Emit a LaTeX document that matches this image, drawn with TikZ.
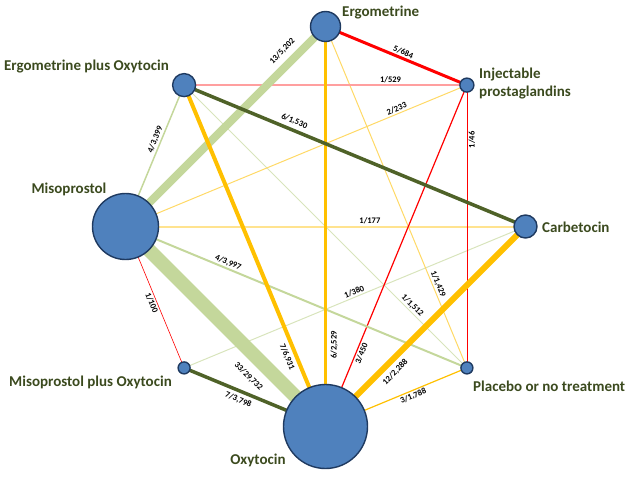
\documentclass[tikz,border=0pt]{standalone}
\usepackage{fontspec}
\setmainfont{Carlito}
\usetikzlibrary{backgrounds}
\definecolor{nfill}{HTML}{4F81BD}
\definecolor{nborder}{HTML}{1F3A60}
\definecolor{cred}{HTML}{FF0000}
\definecolor{cgold}{HTML}{FFC000}
\definecolor{clgreen}{HTML}{C4D79B}
\definecolor{colive}{HTML}{4F6228}
\definecolor{cpink}{HTML}{FF9F9F}
\definecolor{cyellow}{HTML}{FFD966}
\definecolor{cpyellow}{HTML}{FFE38F}
\definecolor{cpgreen}{HTML}{D8E4BC}
\definecolor{ctext}{HTML}{3B4A1E}
\tikzset{
  drug/.style={circle, fill=nfill, draw=nborder, line width=1.4pt, inner sep=0pt, minimum size=#1},
  dlabel/.style={text=ctext, font=\fontsize{15}{18}\selectfont\bfseries, inner sep=0pt},
  elab/.style={font=\fontsize{8.5}{10}\selectfont\bfseries, text=black, inner sep=1.5pt, sloped},
  link/.style={line cap=butt}
}
\begin{document}
\begin{tikzpicture}[x=1pt, y=-1pt]
\useasboundingbox (0,0) rectangle (640,480);
% drugs (octagon, centre (325.5,226.5), radius 200)
\node[drug=30pt] (E)  at (325.5,26.5) {};
\node[drug=14pt] (I)  at (466.9,85.1) {};
\node[drug=23pt] (C)  at (525.5,226.5) {};
\node[drug=12pt] (P)  at (466.9,367.9) {};
\node[drug=84pt] (O)  at (325.5,426.5) {};
\node[drug=12pt] (MO) at (184.1,367.9) {};
\node[drug=66pt] (M)  at (125.5,226.5) {};
\node[drug=23pt] (EO) at (184.1,85.1) {};
% labels of drugs
\node[dlabel, anchor=west] (tE) at (342,13) {Ergometrine};
\node[dlabel] (tEO) at (86.5,67) {Ergometrine plus Oxytocin};
\node[dlabel, anchor=west, align=left] (tI) at (479,84) {Injectable\\prostaglandins};
\node[dlabel] (tM) at (69,189) {Misoprostol};
\node[dlabel, anchor=west] (tC) at (542,227) {Carbetocin};
\node[dlabel] (tMO) at (90.5,382) {Misoprostol plus Oxytocin};
\node[dlabel, anchor=west] (tP) at (473,386) {Placebo or no treatment};
\node[dlabel] (tO) at (258,460) {Oxytocin};
% connectors
\begin{scope}[on background layer]
\draw[link, cpgreen, line width=1pt] (EO.center) -- node[elab, pos=0.7935, above] {1/1,512} (P.center);
\draw[link, cpgreen, line width=1pt] (MO.center) -- node[elab, pos=0.504, above] {1/380} (C.center);
\draw[link, cyellow, line width=1pt] (E.center) -- node[elab, pos=0.76, above] {1/1,429} (P.center);
\draw[link, cyellow, line width=1pt] (M.center) -- node[elab, pos=0.80, above] {2/233} (I.center);
\draw[link, cpyellow, line width=2pt] (M.center) -- node[elab, pos=0.611, above] {1/177} (C.center);
\draw[link, cpink, line width=2pt] (EO.center) -- node[elab, pos=0.73, above] {1/529} (I.center);
\draw[link, cred, line width=0.6pt] (P.center) -- node[elab, pos=0.806, below] {1/46} (I.center);
\draw[link, cred, line width=0.6pt] (M.center) -- node[elab, pos=0.5276, below] {1/100} (MO.center);
\draw[link, cred, line width=1.2pt] (O.center) -- node[elab, pos=0.22, below] {3/450} (I.center);
\draw[link, cred, line width=3pt] (E.center) -- node[elab, pos=0.534, above] {5/684} (I.center);
\draw[link, clgreen, line width=1.5pt] (M.center) -- node[elab, pos=0.60, above] {4/3,399} (EO.center);
\draw[link, clgreen, line width=2pt] (M.center) -- node[elab, pos=0.294, above] {4/3,997} (P.center);
\draw[link, clgreen, line width=8pt] (M.center) -- node[elab, pos=0.83, above=4pt] {13/5,202} (E.center);
\draw[link, clgreen, line width=14pt] (M.center) -- node[elab, pos=0.6825, below=7pt] {33/29,732} (O.center);
\draw[link, cgold, line width=1.2pt] (O.center) -- node[elab, pos=0.606, below] {3/1,788} (P.center);
\draw[link, cgold, line width=3.5pt] (O.center) -- node[elab, pos=0.204, below=2pt] {6/2,529} (E.center);
\draw[link, cgold, line width=4pt] (EO.center) -- node[elab, pos=0.787, below=2pt] {7/6,931} (O.center);
\draw[link, cgold, line width=6pt] (O.center) -- node[elab, pos=0.31, below=3pt] {12/2,288} (C.center);
\draw[link, colive, line width=3.5pt] (EO.center) -- node[elab, pos=0.313, above=2pt] {6/1,530} (C.center);
\draw[link, colive, line width=3.5pt] (MO.center) -- node[elab, pos=0.407, below=2pt] {7/3,798} (O.center);
\end{scope}
\end{tikzpicture}
\end{document}
